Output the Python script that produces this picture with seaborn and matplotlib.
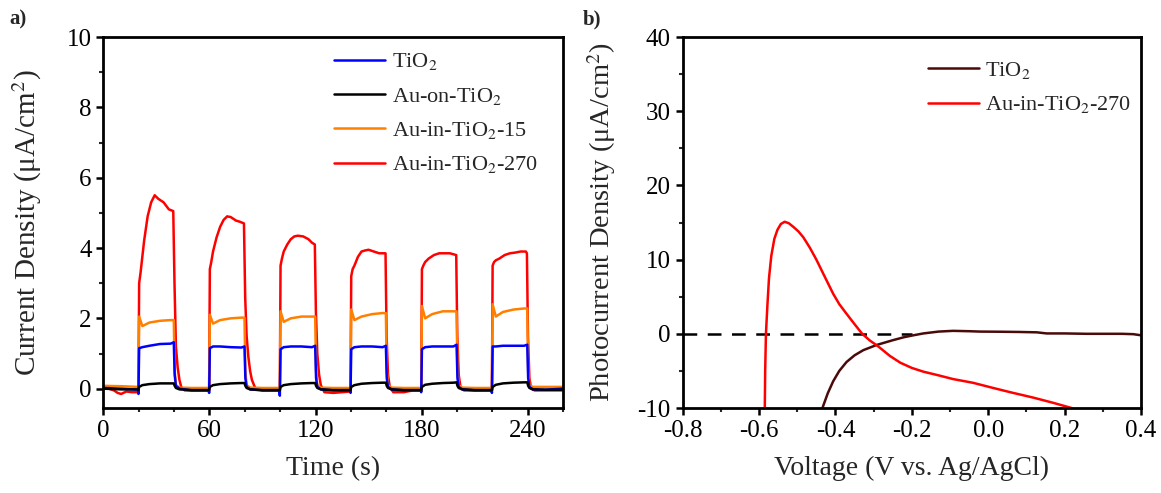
"""
Transient photocurrent (a) and photocurrent-voltage curves (b).
"""

import matplotlib

matplotlib.use("Agg")
import matplotlib.pyplot as plt
import seaborn as sns
from matplotlib.ticker import MultipleLocator

# ---------------------------------------------------------------- panel a data
# time grid shared by TiO2, Au-on-TiO2 and Au-in-TiO2-15 (s)
time_fast = [
    0, 10, 19.6, 19.8, 20.2, 22, 26, 32, 38, 39.8, 40.3, 41, 43, 50,
    59.6, 59.8, 60.2, 62, 66, 72, 78, 79.8, 80.3, 81, 83, 90,
    99.6, 99.8, 100.2, 102, 106, 112, 118, 119.8, 120.3, 121, 123, 130,
    139.6, 139.8, 140.2, 142, 146, 152, 158, 159.8, 160.3, 161, 163, 170,
    179.6, 179.8, 180.2, 182, 186, 192, 198, 199.8, 200.3, 201, 203, 210,
    219.6, 219.8, 220.2, 222, 226, 232, 238, 239.8, 240.3, 241, 243, 250, 260,
]
j_tio2 = [
    0.02, 0.0, -0.03, -0.15, 1.15, 1.18, 1.22, 1.27, 1.28, 1.32, 0.4, 0.08, 0.0, -0.05,
    -0.05, -0.12, 1.15, 1.2, 1.2, 1.18, 1.17, 1.2, 0.3, 0.05, -0.02, -0.05,
    -0.05, -0.2, 1.12, 1.18, 1.2, 1.2, 1.18, 1.22, 0.3, 0.05, -0.02, -0.05,
    -0.05, -0.12, 1.12, 1.18, 1.2, 1.2, 1.18, 1.22, 0.3, 0.05, -0.02, -0.05,
    -0.05, -0.1, 1.12, 1.18, 1.2, 1.2, 1.2, 1.25, 0.3, 0.05, -0.02, -0.05,
    -0.05, -0.12, 1.2, 1.2, 1.22, 1.22, 1.22, 1.25, 0.3, 0.05, -0.02, -0.03, 0.0,
]
j_au_on = [
    0.0, -0.02, -0.02, -0.03, 0.05, 0.1, 0.13, 0.15, 0.15, 0.15, 0.08, 0.02, -0.02, -0.04,
    -0.04, -0.04, 0.05, 0.1, 0.13, 0.15, 0.16, 0.16, 0.08, 0.02, -0.02, -0.04,
    -0.04, -0.04, 0.05, 0.1, 0.13, 0.15, 0.16, 0.16, 0.08, 0.02, -0.02, -0.04,
    -0.04, -0.04, 0.05, 0.1, 0.14, 0.16, 0.17, 0.17, 0.08, 0.02, -0.02, -0.04,
    -0.04, -0.04, 0.05, 0.11, 0.14, 0.16, 0.17, 0.18, 0.08, 0.02, -0.02, -0.04,
    -0.04, -0.04, 0.05, 0.11, 0.15, 0.17, 0.18, 0.18, 0.08, 0.02, -0.02, -0.03, -0.03,
]
j_au_in_15 = [
    0.08, 0.07, 0.05, 0.02, 2.05, 1.78, 1.88, 1.93, 1.95, 1.95, 0.5, 0.1, 0.03, 0.02,
    0.02, 0.02, 2.1, 1.85, 1.95, 2.0, 2.02, 2.02, 0.5, 0.1, 0.03, 0.02,
    0.02, 0.02, 2.2, 1.9, 2.0, 2.05, 2.05, 2.05, 0.5, 0.1, 0.03, 0.02,
    0.02, 0.02, 2.25, 1.95, 2.05, 2.12, 2.15, 2.15, 0.5, 0.1, 0.03, 0.02,
    0.02, 0.02, 2.35, 2.0, 2.12, 2.2, 2.2, 2.2, 0.5, 0.1, 0.03, 0.02,
    0.02, 0.02, 2.4, 2.05, 2.18, 2.25, 2.28, 2.28, 0.5, 0.1, 0.05, 0.05, 0.05,
]

# Au-in-TiO2-270 has slower decay, so it gets its own time grid
time_au_in_270 = [
    0, 3, 6, 8, 10, 13, 16, 19.8, 20.2, 21, 23, 25, 27, 29, 31, 34, 37, 39.5,
    40.2, 41, 42, 43, 44, 46, 50,
    55, 59.8, 60.2, 61, 62, 64, 66, 68, 70, 72, 75, 77, 79.5,
    80.2, 81, 82, 83, 84, 86, 90,
    95, 99.8, 100.2, 101, 102, 104, 106, 108, 110, 113, 116, 118, 119.6,
    120.2, 121, 122, 123, 125, 130,
    135, 139.8, 140.2, 141, 142, 144, 146, 148, 150, 153, 156, 158, 159.6,
    160.2, 161, 162, 164, 170,
    175, 179.8, 180.2, 181, 182, 184, 187, 190, 193, 196, 199.6,
    200.2, 201, 202, 204, 210,
    215, 219.8, 220.2, 221, 222, 224, 227, 230, 233, 236, 239, 239.6,
    240.2, 241, 242, 244, 250, 260,
]
j_au_in_270 = [
    0.05, 0.0, -0.05, -0.12, -0.15, -0.08, -0.1, -0.1, 3.0, 3.3, 4.2, 4.9, 5.3, 5.5, 5.4, 5.3, 5.1, 5.05,
    3.0, 1.2, 0.6, 0.25, 0.05, -0.05, -0.05,
    -0.05, -0.05, 3.4, 3.6, 3.9, 4.3, 4.6, 4.8, 4.9, 4.88, 4.78, 4.75, 4.7,
    2.6, 1.5, 0.9, 0.5, 0.25, 0.0, -0.05,
    -0.05, -0.05, 3.5, 3.7, 3.9, 4.1, 4.25, 4.33, 4.35, 4.33, 4.25, 4.15, 4.1,
    2.2, 1.0, 0.4, 0.1, -0.1, -0.12,
    -0.1, -0.08, 3.2, 3.4, 3.5, 3.75, 3.9, 3.93, 3.95, 3.9, 3.85, 3.85, 3.85,
    1.5, 0.4, 0.05, -0.1, -0.1,
    -0.05, -0.05, 3.4, 3.5, 3.6, 3.7, 3.8, 3.85, 3.85, 3.85, 3.8,
    1.5, 0.4, 0.05, -0.05, -0.05,
    -0.05, -0.05, 3.5, 3.6, 3.65, 3.7, 3.8, 3.85, 3.87, 3.9, 3.9, 3.85,
    1.5, 0.3, 0.0, -0.05, -0.05, -0.05,
]

# ---------------------------------------------------------------- panel b data
v_tio2 = [
    -0.434, -0.432, -0.42, -0.406, -0.39, -0.371, -0.35, -0.327, -0.292, -0.249,
    -0.22, -0.196, -0.17, -0.13, -0.092, -0.05, -0.022, 0.03, 0.08, 0.127,
    0.153, 0.2, 0.258, 0.3, 0.35, 0.38, 0.4,
]
pj_tio2 = [
    -10, -9.7, -8.0, -6.4, -5.0, -3.8, -2.9, -2.2, -1.5, -0.85,
    -0.45, -0.2, 0.05, 0.3, 0.4, 0.35, 0.3, 0.28, 0.25, 0.2,
    0.05, 0.05, 0.0, 0.0, 0.0, -0.05, -0.2,
]
v_au_in_270 = [
    -0.585, -0.584, -0.582, -0.578, -0.574, -0.568, -0.560, -0.552, -0.543, -0.533,
    -0.522, -0.51, -0.497, -0.484, -0.467, -0.45, -0.43, -0.406, -0.39, -0.371,
    -0.35, -0.33, -0.31, -0.288, -0.257, -0.23, -0.2, -0.17, -0.13, -0.092,
    -0.04, 0.013, 0.06, 0.118, 0.17, 0.218,
]
pj_au_in_270 = [
    -10, -5, 0, 4, 7.5, 10.5, 12.8, 14.0, 14.8, 15.1,
    14.9, 14.4, 13.8, 13.0, 11.6, 10.0, 7.9, 5.4, 4.0, 2.7,
    1.3, 0.0, -0.9, -1.7, -3.0, -3.9, -4.6, -5.1, -5.6, -6.1,
    -6.6, -7.3, -7.9, -8.6, -9.3, -10,
]
zero_line_v = [-0.8, -0.2]

# Set style
sns.set_style("ticks")
plt.rcParams["font.family"] = ["Liberation Serif", "DejaVu Serif"]
plt.rcParams["mathtext.fontset"] = "stix"
plt.rcParams["axes.unicode_minus"] = False

SERIF = "Liberation Serif"

fig = plt.figure(figsize=(11.61, 4.93), dpi=100)
ax_a = fig.add_axes([0.0891, 0.1724, 0.3958, 0.7525])
ax_b = fig.add_axes([0.5880, 0.1724, 0.3948, 0.7525])

line_kw = dict(estimator=None, sort=False, linewidth=1.8)
legend_kw = dict(loc="upper left", frameon=False, prop={"family": SERIF, "size": 16},
                 handlelength=2.3, handletextpad=0.3, labelspacing=0.6,
                 borderaxespad=0.0)

# ---------------------------------------------------------------- panel a
sns.lineplot(x=time_au_in_270, y=j_au_in_270, ax=ax_a, color="#ff0000",
             label="Au-in-TiO$_2$-270", **line_kw)
sns.lineplot(x=time_fast, y=j_au_in_15, ax=ax_a, color="#ff8000",
             label="Au-in-TiO$_2$-15", **line_kw)
sns.lineplot(x=time_fast, y=j_tio2, ax=ax_a, color="#0000ff",
             label="TiO$_2$", **line_kw)
sns.lineplot(x=time_fast, y=j_au_on, ax=ax_a, color="#000000",
             label="Au-on-TiO$_2$", **line_kw)

ax_a.set_xlim(0, 260)
ax_a.set_ylim(-0.55, 10)
ax_a.xaxis.set_major_locator(MultipleLocator(60))
ax_a.xaxis.set_minor_locator(MultipleLocator(20))
ax_a.yaxis.set_major_locator(MultipleLocator(2))
ax_a.yaxis.set_minor_locator(MultipleLocator(1))
ax_a.set_xlabel("Time (s)", fontsize=20, family=SERIF)
ax_a.set_ylabel("Current Density (μA/cm$^2$)", fontsize=21, family=SERIF)
ax_a.yaxis.set_label_coords(-0.13, 0.5)
ax_a.xaxis.set_label_coords(0.5, -0.13)

handles, labels = ax_a.get_legend_handles_labels()
order = [2, 3, 1, 0]
ax_a.legend([handles[i] for i in order], [labels[i] for i in order],
            bbox_to_anchor=(0.482, 0.985), **legend_kw)

# ---------------------------------------------------------------- panel b
ax_b.hlines(0, zero_line_v[0], zero_line_v[1], colors="black", linewidth=1.8,
            linestyles=(0, (5.5, 4.2)))
sns.lineplot(x=v_tio2, y=pj_tio2, ax=ax_b, color="#4a0a0a",
             label="TiO$_2$", **line_kw)
sns.lineplot(x=v_au_in_270, y=pj_au_in_270, ax=ax_b, color="#ff0000",
             label="Au-in-TiO$_2$-270", **line_kw)

ax_b.set_xlim(-0.8, 0.4)
ax_b.set_ylim(-10, 40)
ax_b.xaxis.set_major_locator(MultipleLocator(0.2))
ax_b.xaxis.set_minor_locator(MultipleLocator(0.1))
ax_b.yaxis.set_major_locator(MultipleLocator(10))
ax_b.yaxis.set_minor_locator(MultipleLocator(5))
ax_b.set_xlabel("Voltage (V vs. Ag/AgCl)", fontsize=20, family=SERIF)
ax_b.set_ylabel("Photocurrent Density (μA/cm$^2$)", fontsize=20.5, family=SERIF)
ax_b.yaxis.set_label_coords(-0.14, 0.5)
ax_b.xaxis.set_label_coords(0.5, -0.13)
ax_b.legend(bbox_to_anchor=(0.515, 0.962), **legend_kw)

for ax in (ax_a, ax_b):
    for spine in ax.spines.values():
        spine.set_visible(True)
        spine.set_linewidth(2.0)
        spine.set_color("black")
    ax.tick_params(which="major", direction="out", length=5, width=1.8,
                   labelsize=18, colors="black", top=False, right=False,
                   labelfontfamily=SERIF)
    ax.tick_params(which="minor", direction="out", length=3, width=1.5,
                   top=False, right=False)
    ax.grid(False)

fig.text(0.008, 0.95, "a)", fontsize=15, fontweight="bold", family=SERIF)
fig.text(0.502, 0.95, "b)", fontsize=15, fontweight="bold", family=SERIF)

fig.savefig("out.png", dpi=100, facecolor="white")
plt.close(fig)
